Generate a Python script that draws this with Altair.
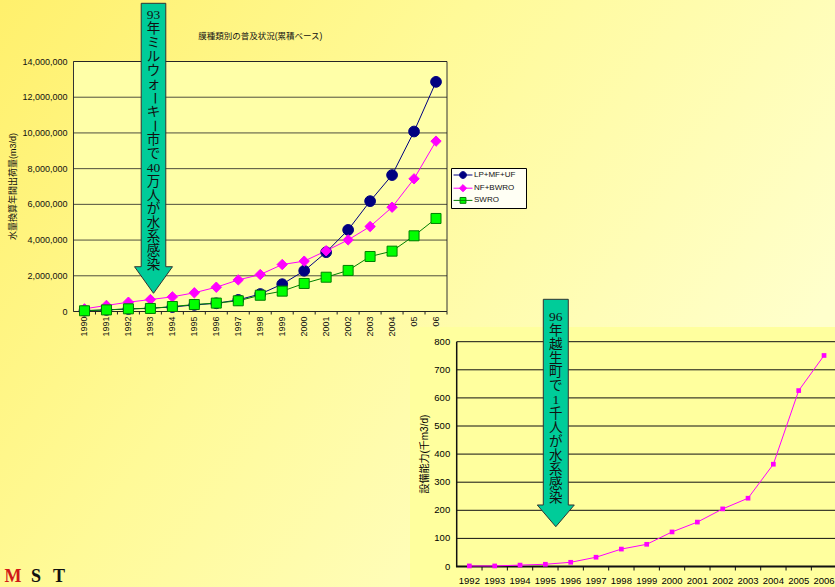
import altair as alt
import pandas as pd

# ---------------- data ----------------
years1 = list(range(1990, 2007))
lp_mf_uf = [50000, 90000, 140000, 190000, 250000, 370000, 460000, 650000, 980000,
            1530000, 2280000, 3320000, 4570000, 6180000, 7640000, 10080000, 12860000]
nf_bwro = [150000, 340000, 520000, 670000, 820000, 1050000, 1360000, 1770000, 2070000,
           2630000, 2820000, 3400000, 4010000, 4760000, 5840000, 7430000, 9540000]
swro = [40000, 90000, 150000, 170000, 280000, 390000, 470000, 600000, 910000,
        1140000, 1570000, 1920000, 2300000, 3080000, 3380000, 4240000, 5210000]
series_names = ["LP+MF+UF", "NF+BWRO", "SWRO"]
y1_ticks = [0, 2000000, 4000000, 6000000, 8000000, 10000000, 12000000, 14000000]

years2 = list(range(1992, 2007))
capacity2 = [2, 2, 5, 8, 15, 33, 62, 79, 123, 158, 205, 243, 364, 626, 751]
y2_ticks = [0, 100, 200, 300, 400, 500, 600, 700, 800]

title1 = "膜種類別の普及状況(累積ベース)"
ytitle1 = "水量換算年間出荷量(m3/d)"
ytitle2 = "設備能力(千m3/d)"
arrow1_tokens = ["93", "年", "ミ", "ル", "ウ", "ォ", "ー", "キ", "ー", "市", "で", "40",
                 "万", "人", "が", "水", "系", "感", "染"]
arrow2_tokens = ["96", "年", "越", "生", "町", "で", "1", "千", "人", "が", "水", "系", "感", "染"]
logo_chars = ["M", "S", "T"]

# ---------------- style / layout ----------------
W, H = 835, 587
SANS = "Liberation Sans, Arial, sans-serif"
CJK = "Liberation Sans, Noto Sans CJK JP"
SERIF_CJK = "Liberation Serif, Noto Sans CJK JP"
INK = "#111111"
line_cols = ["#000080", "#FF00FF", "#008000"]
fill_cols = ["#000080", "#FF00FF", "#00FF00"]
shapes = ["circle", "diamond", "square"]
sizes = [115, 100, 64]
leg_shapes = [
    "M-2.1,0H2.1M0.75,0A0.75,0.75 0 1 1 -0.75,0A0.75,0.75 0 1 1 0.75,0ZM13,0",
    "M-2.1,0H2.1M0,-0.8L0.8,0L0,0.8L-0.8,0ZM13,0",
    "M-2.1,0H2.1M-0.65,-0.65H0.65V0.65H-0.65ZM13,0",
]
logo_colors = ["#D01818", "#111111", "#111111"]

P1l, P1r, P1t, P1b = 73.5, 447.0, 61.5, 311.5
P2l, P2r, P2t, P2b = 456.7, 836.7, 341.7, 566.5

one = alt.Data(values=[{"k": 1}])

# ---------------- background ----------------
bg = alt.Chart(one).mark_rect(
    color=alt.LinearGradient(
        gradient="linear", x1=0, y1=0, x2=1, y2=0.5,
        stops=[alt.GradientStop(offset=0, color="#FFF06C"),
               alt.GradientStop(offset=0.45, color="#FFFA98"),
               alt.GradientStop(offset=1, color="#FFFFCC")])
).encode(x=alt.value(0), x2=alt.value(W), y=alt.value(0), y2=alt.value(H))

# ---------------- chart 1 ----------------
x1s = alt.Scale(type="band", domain=years1, range=[P1l, P1r], paddingInner=0, paddingOuter=0)
y1s = alt.Scale(domain=[0, 14000000], range=[P1b, P1t], nice=False, zero=True)

rows = []
for name, vals in zip(series_names, [lp_mf_uf, nf_bwro, swro]):
    for yr, v in zip(years1, vals):
        rows.append({"year": yr, "series": name, "value": v})
df1 = pd.DataFrame(rows)
df_y1 = pd.DataFrame({"v": y1_ticks})
df_yr1 = pd.DataFrame({"year": years1})

c1_frame = alt.Chart(one).mark_rect(fill="#FFFFA8", stroke="#333333", strokeWidth=1).encode(
    x=alt.value(P1l), x2=alt.value(P1r), y=alt.value(P1t), y2=alt.value(P1b))

c1_grid = alt.Chart(df_y1).mark_rule(color="#222222", strokeWidth=0.8).encode(
    y=alt.Y("v:Q", scale=y1s, axis=None), x=alt.value(P1l), x2=alt.value(P1r))

c1_ylab = alt.Chart(df_y1).mark_text(
    align="right", baseline="middle", font=SANS, fontSize=9, color=INK
).encode(y=alt.Y("v:Q", scale=y1s, axis=None), x=alt.value(P1l - 6),
         text=alt.Text("v:Q", format=","))

c1_ytitle = alt.Chart(pd.DataFrame({"t": [ytitle1]})).mark_text(
    angle=270, align="center", baseline="middle", font=CJK, fontSize=9, color=INK
).encode(x=alt.value(13), y=alt.value((P1t + P1b) / 2), text="t:N")

c1_xticks = alt.Chart(df_yr1).mark_rule(color="#222222", strokeWidth=1).encode(
    x=alt.X("year:O", scale=x1s, bandPosition=1, axis=None),
    y=alt.value(P1b), y2=alt.value(P1b + 3))

c1_xlab = alt.Chart(df_yr1).mark_text(
    angle=270, align="right", baseline="middle", fontSize=9, font=SANS, color=INK
).encode(x=alt.X("year:O", scale=x1s, axis=None), y=alt.value(P1b + 5), text="year:O")

c1_lines = alt.Chart(df1).mark_line(strokeWidth=1).encode(
    x=alt.X("year:O", scale=x1s, axis=None),
    y=alt.Y("value:Q", scale=y1s, axis=None),
    stroke=alt.Stroke("series:N", scale=alt.Scale(domain=series_names, range=line_cols), legend=None))

c1_points = alt.Chart(df1).mark_point(filled=True, opacity=1, strokeWidth=1).encode(
    x=alt.X("year:O", scale=x1s, axis=None),
    y=alt.Y("value:Q", scale=y1s, axis=None),
    fill=alt.Fill("series:N", scale=alt.Scale(domain=series_names, range=fill_cols), legend=None),
    stroke=alt.Stroke("series:N", scale=alt.Scale(domain=series_names, range=line_cols), legend=None),
    shape=alt.Shape("series:N", scale=alt.Scale(domain=series_names, range=shapes), legend=None),
    size=alt.Size("series:N", scale=alt.Scale(domain=series_names, range=sizes), legend=None))

c1_title = alt.Chart(pd.DataFrame({"t": [title1]})).mark_text(
    font=CJK, fontSize=8.5, color=INK, align="center", baseline="middle"
).encode(x=alt.value((P1l + P1r) / 2), y=alt.value(36), text="t:N")

c1 = alt.layer(c1_frame, c1_grid, c1_ylab, c1_ytitle, c1_xticks, c1_xlab,
               c1_lines, c1_points, c1_title)

# legend (symbols built from the scales)
leg_props = dict(orient="none", legendX=451, legendY=168, title=None, fillColor="#FFFFF4",
                 strokeColor="#000000", padding=2, labelFont=SANS, labelFontSize=8,
                 labelColor=INK, symbolSize=81, symbolStrokeWidth=1, symbolOffset=5,
                 labelOffset=6, rowPadding=1.2)
leg = alt.Chart(df1).transform_filter("false").mark_point(filled=True, opacity=1).encode(
    fill=alt.Fill("series:N", scale=alt.Scale(domain=series_names, range=fill_cols),
                  legend=alt.Legend(**leg_props)),
    stroke=alt.Stroke("series:N", scale=alt.Scale(domain=series_names, range=line_cols),
                      legend=alt.Legend(**leg_props)),
    shape=alt.Shape("series:N", scale=alt.Scale(domain=series_names, range=leg_shapes),
                    legend=alt.Legend(**leg_props)))


# ---------------- arrows ----------------
def arrow_path(shaft_hw, head_hw, head_y):
    return (f"M{-shaft_hw},-1L{shaft_hw},-1L{shaft_hw},{head_y}L{head_hw},{head_y}"
            f"L0,1L{-head_hw},{head_y}L{-shaft_hw},{head_y}Z")


def arrow(cx, top, tip, shaft_half, head_half, head_top):
    half = (tip - top) / 2
    cy = top + half
    path = arrow_path(round(shaft_half / half, 4), round(head_half / half, 4),
                      round((head_top - cy) / half, 4))
    return alt.Chart(one).mark_point(
        shape=path, size=(2 * half) ** 2, filled=True, fill="#00CC99", stroke="#333333",
        strokeWidth=1, opacity=1).encode(x=alt.value(cx), y=alt.value(cy))


def arrow_text(tokens, cx, y0, y1):
    df = pd.DataFrame({"i": list(range(len(tokens))), "t": tokens,
                       "rot": [90 if t == "ー" else 0 for t in tokens]})
    return alt.Chart(df).mark_text(
        font=SERIF_CJK, fontSize=13.5, color=INK, align="center", baseline="middle"
    ).encode(
        x=alt.value(cx),
        y=alt.Y("i:Q", scale=alt.Scale(domain=[0, len(tokens) - 1], range=[y0, y1]), axis=None),
        text="t:N", angle=alt.Angle("rot:Q", scale=None))


arrow1 = arrow(153.5, 3.3, 293.3, 12.3, 19.0, 266.7)
a1_text = arrow_text(arrow1_tokens, 153.5, 15, 265)
arrow2 = arrow(555.8, 299.3, 526.7, 12.5, 18.5, 505.0)
a2_text = arrow_text(arrow2_tokens, 555.8, 316.7, 498)

# ---------------- chart 2 ----------------
panel2 = alt.Chart(one).mark_rect(fill="#FFFF9E").encode(
    x=alt.value(410), x2=alt.value(W), y=alt.value(327), y2=alt.value(H))

x2s = alt.Scale(type="band", domain=years2, range=[P2l, P2r], paddingInner=0, paddingOuter=0)
y2s = alt.Scale(domain=[0, 800], range=[P2b, P2t], nice=False, zero=True)
df2 = pd.DataFrame({"year": years2, "cap": capacity2})
df_y2 = pd.DataFrame({"v": y2_ticks})
df_yr2 = pd.DataFrame({"year": years2})

c2_grid = alt.Chart(df_y2).mark_rule(color=INK, strokeWidth=1).encode(
    y=alt.Y("v:Q", scale=y2s, axis=None), x=alt.value(P2l), x2=alt.value(W))

c2_ylab = alt.Chart(df_y2).mark_text(
    align="right", baseline="middle", font=SANS, fontSize=9.5, color="#000000"
).encode(y=alt.Y("v:Q", scale=y2s, axis=None), x=alt.value(P2l - 6.5), text="v:Q")

c2_ytitle = alt.Chart(pd.DataFrame({"t": [ytitle2]})).mark_text(
    angle=270, align="center", baseline="middle", font=CJK, fontSize=10, color="#000000"
).encode(x=alt.value(425), y=alt.value((P2t + P2b) / 2), text="t:N")

c2_ydomain = alt.Chart(one).mark_rule(color=INK, strokeWidth=1.5).encode(
    x=alt.value(P2l), y=alt.value(P2t), y2=alt.value(P2b))
c2_xdomain = alt.Chart(one).mark_rule(color=INK, strokeWidth=2).encode(
    x=alt.value(P2l - 0.75), x2=alt.value(W), y=alt.value(P2b))

c2_xticks = alt.Chart(df_yr2).mark_rule(color=INK, strokeWidth=1).encode(
    x=alt.X("year:O", scale=x2s, bandPosition=1, axis=None),
    y=alt.value(P2b), y2=alt.value(P2b + 4))

c2_xlab = alt.Chart(df_yr2).mark_text(
    align="center", baseline="middle", font=SANS, fontSize=9.5, color="#000000"
).encode(x=alt.X("year:O", scale=x2s, axis=None), y=alt.value(P2b + 14.5), text="year:O")

c2_line = alt.Chart(df2).mark_line(color="#FF00FF", strokeWidth=1).encode(
    x=alt.X("year:O", scale=x2s, axis=None),
    y=alt.Y("cap:Q", scale=y2s, axis=None))

c2_points = alt.Chart(df2).mark_point(shape="square", filled=True, color="#FF00FF", size=22,
                                      opacity=1).encode(
    x=alt.X("year:O", scale=x2s, axis=None),
    y=alt.Y("cap:Q", scale=y2s, axis=None))

c2 = alt.layer(c2_grid, c2_ydomain, c2_xdomain, c2_xticks, c2_ylab, c2_ytitle, c2_xlab,
               c2_line, c2_points)

# ---------------- logo ----------------
df_logo = pd.DataFrame({"i": [0, 1, 2], "c": logo_chars, "col": logo_colors})
logo = alt.Chart(df_logo).mark_text(
    font="Liberation Serif", fontWeight="bold", fontSize=18, baseline="alphabetic", align="center"
).encode(
    x=alt.X("i:Q", scale=alt.Scale(domain=[0, 2], range=[13, 59]), axis=None),
    y=alt.value(582), text="c:N", color=alt.Color("col:N", scale=None))

chart = alt.layer(
    bg, c1, leg, arrow1, a1_text, panel2, c2, arrow2, a2_text, logo
).resolve_scale(
    x="independent", y="independent", color="independent", fill="independent",
    stroke="independent", shape="independent", size="independent", angle="independent"
).properties(
    width=W, height=H, autosize=alt.AutoSizeParams(type="none"), padding=0
).configure_view(stroke=None)

chart.save("out.html", embed_options={"renderer": "svg", "actions": False})
